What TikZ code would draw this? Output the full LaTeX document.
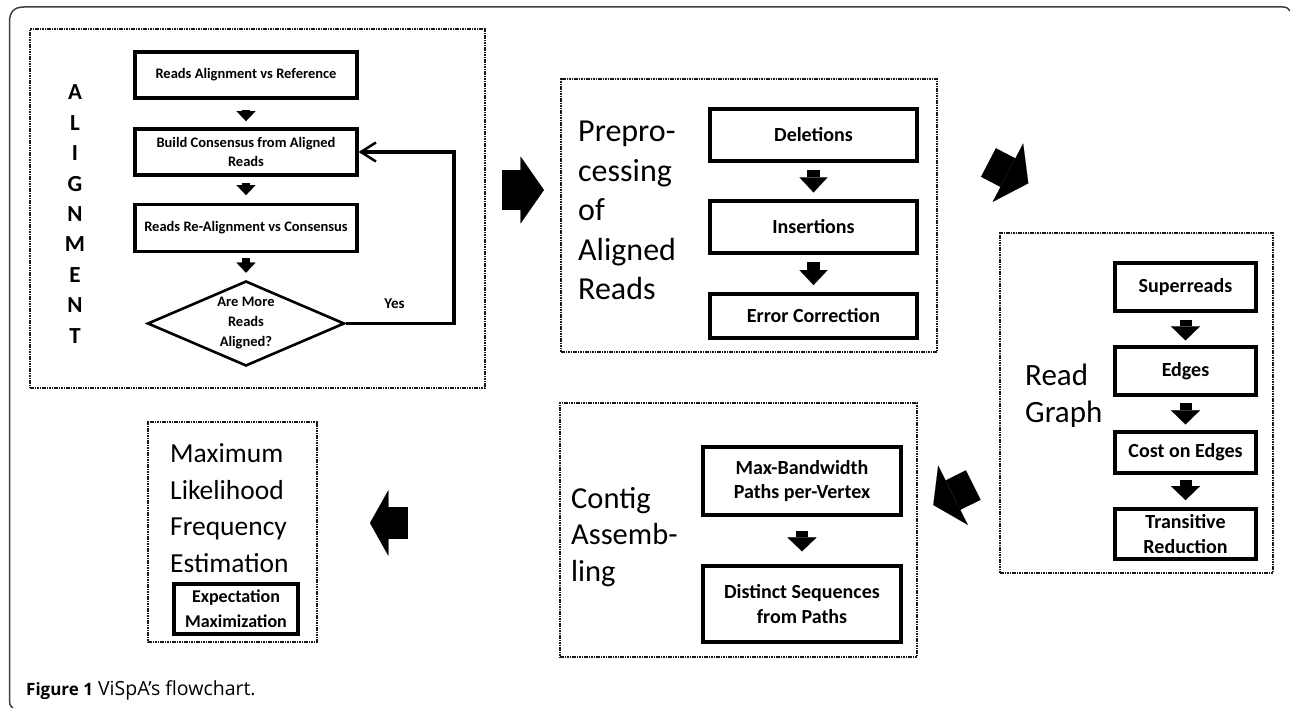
\documentclass[tikz,border=0pt]{standalone}
\usepackage{fontspec}
\setmainfont{Carlito}
\newfontfamily\capfont{Open Sans}
\usetikzlibrary{arrows.meta,shapes.geometric}
\begin{document}
\begin{tikzpicture}[x=1pt,y=-1pt,
  grp/.style={draw=black!90, line width=2.1pt, dash pattern=on 1.6pt off 0.8pt, inner sep=0pt},
  box/.style={draw, line width=3.2pt, align=center, inner sep=0pt, font=\bfseries\fontsize{20}{24.5}\selectfont},
  boxs/.style={box, font=\bfseries\fontsize{14.5}{19}\selectfont},
  big/.style={inner sep=0pt, anchor=west, align=left},
  bigarr/.style n args={3}{line width=#1pt, -{Triangle[width=#2pt,length=#3pt,line width=0.1pt]}},
  sarrA/.style={line width=8.5pt, -{Triangle[width=19pt,length=10pt,line width=0.1pt]}},
  sarrB/.style={line width=13pt, -{Triangle[width=28pt,length=15pt,line width=0.1pt]}},
  sarrC/.style={line width=12pt, -{Triangle[width=29pt,length=14pt,line width=0.1pt]}},
  frame/.style={draw=black!75, line width=1.5pt}
]
\useasboundingbox (0,0) rectangle (1290,708);

% outer frame
\draw[frame] (13,708) .. controls (9.5,706) and (9.5,703) .. (9.5,698) -- (9.5,22) .. controls (9.5,12) and (14,7) .. (24,7) -- (1283,7) .. controls (1287,7) and (1289,9) .. (1290,11);

% ---------- Alignment ----------
\node[grp, minimum width=455pt, minimum height=359pt] (grpA) at (257.5,208.5) {};
\node[boxs, minimum width=222pt, minimum height=46pt] (a1) at (246,75) {Reads Alignment vs Reference};
\node[boxs, minimum width=222pt, minimum height=46pt] (a2) at (246,152) {Build Consensus from Aligned\\Reads};
\node[boxs, minimum width=222pt, minimum height=47pt] (a3) at (246,228) {Reads Re-Alignment vs Consensus};
\node[diamond, draw, line width=2.6pt, minimum width=197pt, minimum height=85pt, inner sep=0pt,
  label={[align=center, inner sep=0pt, font=\bfseries\fontsize{14.5}{20}\selectfont]center:{Are More\\Reads\\Aligned?}}] (a4) at (246,323.5) {};
\node[inner sep=0pt, align=center, font=\bfseries\fontsize{23}{30.4}\selectfont] (lA) at (75,214) {A\\L\\I\\G\\N\\M\\E\\N\\T};
\node[inner sep=0pt, anchor=base, font=\bfseries\fontsize{15}{18}\selectfont] (yes) at (394.5,309) {Yes};

\draw[sarrA, shorten <=10.3pt, shorten >=6.3pt] (a1) -- (a2);
\draw[sarrA, shorten <=6.7pt, shorten >=7.8pt] (a2) -- (a3);
\draw[sarrA, shorten <=5.2pt, shorten >=7pt] (a3) -- (a4);
\coordinate (fb) at (454,0);
\draw[line width=3.2pt, -{Straight Barb[length=15pt,width=19pt,line width=2.5pt]}] (a4.east) -- (a4.east -| fb) |- (a2.east);

% ---------- Preprocessing ----------
\node[grp, minimum width=376pt, minimum height=273pt] (grpP) at (749,215.5) {};
\node[box, minimum width=207pt, minimum height=52pt] (p1) at (813.5,135) {Deletions};
\node[box, minimum width=207pt, minimum height=52pt] (p2) at (813.5,227) {Insertions};
\node[box, minimum width=207pt, minimum height=44pt] (p3) at (813.5,316) {Error Correction};
\node[big, font=\fontsize{32}{39.5}\selectfont] (lP) at (578,210.7) {Prepro-\\cessing\\of\\Aligned\\Reads};
\draw[sarrB, shorten <=7pt, shorten >=7pt] (p1) -- (p2);
\draw[sarrB, shorten <=7pt, shorten >=7.3pt] (p2) -- (p3);

% ---------- Read Graph ----------
\node[grp, minimum width=273pt, minimum height=340pt] (grpR) at (1136.5,403) {};
\node[box, minimum width=141pt, minimum height=48pt] (r1) at (1185.5,287) {Superreads};
\node[box, minimum width=141pt, minimum height=48pt] (r2) at (1185.5,371) {Edges};
\node[box, minimum width=141pt, minimum height=41pt] (r3) at (1185.5,452.5) {Cost on Edges};
\node[box, minimum width=141pt, minimum height=50pt] (r4) at (1185.5,534) {Transitive\\Reduction};
\node[big, font=\fontsize{31}{37}\selectfont] (lR) at (1025,396.2) {Read\\Graph};
\draw[sarrC, shorten <=7pt, shorten >=5pt] (r1) -- (r2);
\draw[sarrC, shorten <=6.7pt, shorten >=6pt] (r2) -- (r3);
\draw[sarrC, shorten <=5.3pt, shorten >=7.3pt] (r3) -- (r4);

% ---------- Contig ----------
\node[grp, minimum width=357pt, minimum height=254pt] (grpC) at (738.5,530) {};
\node[box, minimum width=198pt, minimum height=68pt] (c1) at (802,481) {Max-Bandwidth\\Paths per-Vertex};
\node[box, minimum width=198pt, minimum height=76pt] (c2) at (802,604) {Distinct Sequences\\from Paths};
\node[big, font=\fontsize{30.5}{36.5}\selectfont] (lC) at (571,536.7) {Contig\\Assemb-\\ling};
\draw[sarrC, shorten <=14pt, shorten >=13pt] (c1) -- (c2);

% ---------- Maximum Likelihood ----------
\node[grp, minimum width=169pt, minimum height=220pt] (grpM) at (232.5,532) {};
\node[box, font=\bfseries\fontsize{18}{25}\selectfont, minimum width=124pt, minimum height=50pt] (m1) at (236,609) {Expectation\\Maximization};
\node[big, font=\fontsize{27.5}{36.7}\selectfont] (lM) at (170,508.2) {Maximum\\Likelihood\\Frequency\\Estimation};

% ---------- big arrows between stages ----------
\coordinate (yA) at (0,190);
\draw[bigarr={39.4}{66.7}{23.3}, shorten <=15.7pt, shorten >=16pt] (grpA.east |- yA) -- (grpP.west |- yA);
\coordinate (q1b) at (988.4,162.5);
\coordinate (q1t) at (1028.3,183.3);
\draw[bigarr={32.3}{66}{23}] (q1b) -- (q1t);
\coordinate (q2b) at (973.35,485);
\coordinate (q2t) at (933.3,505);
\draw[bigarr={33}{66.5}{22}] (q2b) -- (q2t);
\coordinate (q3b) at (408.3,523);
\coordinate (q3t) at (370,523);
\draw[bigarr={32.3}{65.3}{18.3}] (q3b) -- (q3t);

% ---------- caption ----------
\node[anchor=base west, inner sep=0pt, font=\capfont\fontsize{19.5}{23}\selectfont] (cap) at (26,695) {{\fontsize{17}{20}\selectfont\bfseries Figure 1} ViSpA’s flowchart.};
\end{tikzpicture}
\end{document}
